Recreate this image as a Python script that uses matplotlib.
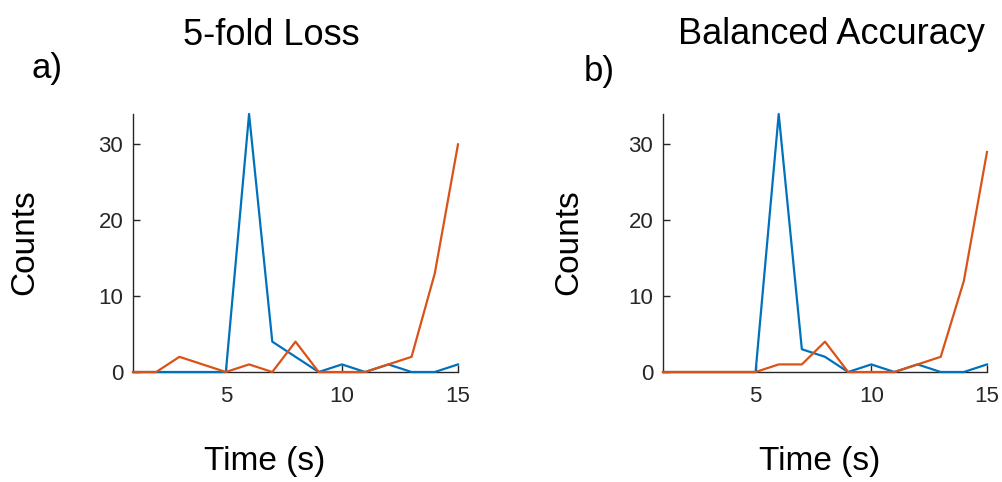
import matplotlib
matplotlib.use("Agg")
import matplotlib.pyplot as plt
import numpy as np

plt.rcParams['font.family'] = ['Liberation Sans', 'DejaVu Sans']

time_s = np.arange(1, 16)

# 5-fold loss counts
loss_blue = [0, 0, 0, 0, 0, 34, 4, 2, 0, 1, 0, 1, 0, 0, 1]
loss_orange = [0, 0, 2, 1, 0, 1, 0, 4, 0, 0, 0, 1, 2, 13, 30]

# balanced accuracy counts
acc_blue = [0, 0, 0, 0, 0, 34, 3, 2, 0, 1, 0, 1, 0, 0, 1]
acc_orange = [0, 0, 0, 0, 0, 1, 1, 4, 0, 0, 0, 1, 2, 12, 29]

titles = ['5-fold Loss', 'Balanced Accuracy']
panel_tags = ['a)', 'b)']
xticks = [5, 10, 15]
yticks = [0, 10, 20, 30]

blue = '#0072BD'
orange = '#D95319'
axcol = '#262626'

W, H = 1002, 482
fig = plt.figure(figsize=(W / 100, H / 100), dpi=100)

def px(x0, y0, x1, y1):
    return [x0 / W, 1 - y1 / H, (x1 - x0) / W, (y1 - y0) / H]

def ftext(x, y, s, **kw):
    # place text by pixel position (origin top-left)
    return fig.text(x / W, 1 - y / H, s, **kw)

boxes = [px(133, 114, 458, 372), px(663, 114, 987, 372)]
series = [(loss_blue, loss_orange), (acc_blue, acc_orange)]

for i, (box, (b, o)) in enumerate(zip(boxes, series)):
    ax = fig.add_axes(box)
    ax.plot(time_s, b, color=blue, lw=1.6, zorder=3, clip_on=False)
    ax.plot(time_s, o, color=orange, lw=1.6, zorder=3, clip_on=False)
    ax.set_xlim(1, 15)
    ax.set_ylim(0, 34)
    ax.set_xticks(xticks)
    ax.set_yticks(yticks)
    for s in ['top', 'right']:
        ax.spines[s].set_visible(False)
    for s in ['left', 'bottom']:
        ax.spines[s].set_color(axcol)
        ax.spines[s].set_linewidth(1.0)
    ax.tick_params(direction='in', length=5, width=1.0, colors=axcol,
                   labelsize=16)
    ax.tick_params(axis='x', pad=10)
    ax.tick_params(axis='y', pad=7)

# titles, panel tags and axis labels
ftext(271, 45, titles[0], fontsize=26, ha='center', va='baseline')
ftext(832, 44, titles[1], fontsize=26, ha='center', va='baseline')
ftext(47, 78, panel_tags[0], fontsize=25, ha='center', va='baseline')
ftext(599, 81, panel_tags[1], fontsize=25, ha='center', va='baseline')

ftext(265, 470, 'Time (s)', fontsize=24, ha='center', va='baseline')
ftext(820, 470, 'Time (s)', fontsize=24, ha='center', va='baseline')
ftext(25, 242, 'Counts', fontsize=24, ha='center', va='center', rotation=90)
ftext(569, 242, 'Counts', fontsize=24, ha='center', va='center', rotation=90)

fig.savefig('out.png', dpi=100)
